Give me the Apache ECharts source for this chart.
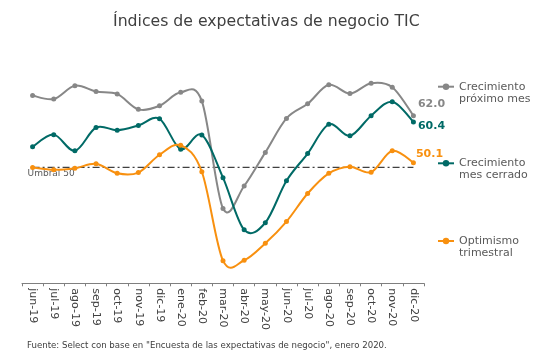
<!DOCTYPE html>
<html>
<head>
<meta charset="utf-8">
<script src="https://cdn.jsdelivr.net/npm/echarts@6/dist/echarts.min.js"></script>
<style>html,body{margin:0;padding:0;background:#fff}#c{width:560px;height:364px}</style>
</head>
<body>
<div id="c"></div>
<script>
const categories = ['jun-19','jul-19','ago-19','sep-19','oct-19','nov-19','dic-19','ene-20','feb-20','mar-20','abr-20','may-20','jun-20','jul-20','ago-20','sep-20','oct-20','nov-20','dic-20'];
const crecimientoProximo = [67.1,66.2,69.6,68.1,67.5,63.6,64.5,67.9,65.7,38.5,44.2,52.7,61.3,65.0,69.8,67.6,70.2,69.2,62.0];
const crecimientoCerrado = [54.1,57.2,53.1,59.0,58.3,59.5,61.2,53.5,57.1,46.3,33.1,34.9,45.5,52.4,59.8,56.9,62.0,65.5,60.4];
const optimismoTrimestral = [48.9,48.3,48.7,49.8,47.4,47.6,52.1,54.5,47.8,25.3,25.4,29.7,35.2,42.3,47.4,49.1,47.7,53.1,50.1];
const umbralValue = 48.9;
const umbral = categories.map(() => umbralValue);

const seriesNames = ['Crecimiento\npróximo mes', 'Crecimiento\nmes cerrado', 'Optimismo\ntrimestral'];
const colors = ['#878787', '#006a66', '#f8900f'];
const endOffsets = [[2, -11.4], [2, 3.7], [0, -9]];
const values = [crecimientoProximo, crecimientoCerrado, optimismoTrimestral];

const chart = echarts.init(document.getElementById('c'), null, {renderer: 'canvas'});
const FONT = 'DejaVu Sans';
const TENSION = 1 / 6;

// smooth curve (Catmull-Rom style, like spreadsheet smoothing) through the data, drawn segment by segment
function mkCurve(i) {
  const arr = values[i];
  const n = arr.length;
  return {
    type: 'custom',
    z: 2,
    silent: true,
    encode: {x: 0, y: 1},
    data: arr.map((v, k) => [k, v]),
    renderItem: (params, api) => {
      const k = params.dataIndex;
      if (k >= n - 1) return null;
      const P = (j) => { const c = Math.max(0, Math.min(n - 1, j)); return api.coord([c, arr[c]]); };
      const p0 = P(k - 1), p1 = P(k), p2 = P(k + 1), p3 = P(k + 2);
      return {
        type: 'bezierCurve',
        shape: {
          x1: p1[0], y1: p1[1], x2: p2[0], y2: p2[1],
          cpx1: p1[0] + (p2[0] - p0[0]) * TENSION, cpy1: p1[1] + (p2[1] - p0[1]) * TENSION,
          cpx2: p2[0] - (p3[0] - p1[0]) * TENSION, cpy2: p2[1] - (p3[1] - p1[1]) * TENSION
        },
        style: {stroke: colors[i], lineWidth: 2, fill: null, lineCap: 'round'}
      };
    }
  };
}

function mkSeries(i) {
  const arr = values[i];
  return {
    name: seriesNames[i],
    type: 'line',
    symbol: 'circle',
    symbolSize: 5,
    lineStyle: {width: 0, color: colors[i]},
    itemStyle: {color: colors[i]},
    z: 4,
    data: arr.map((v, k) => k === arr.length - 1 ? {
      value: v,
      label: {
        show: true, position: 'right', distance: 0, offset: endOffsets[i],
        formatter: (p) => p.value.toFixed(1),
        color: colors[i], fontFamily: FONT, fontSize: 11, fontWeight: 'bold'
      }
    } : v)
  };
}

const legendTops = [68.7, 145.3, 223];
const legends = seriesNames.map((n, i) => ({
  data: [n],
  orient: 'vertical',
  left: 437,
  top: legendTops[i],
  align: 'left',
  padding: 0,
  itemWidth: 16,
  itemHeight: 8,
  selectedMode: false,
  lineStyle: {width: 2, color: colors[i]},
  formatter: (name) => '\n' + name,
  textStyle: {fontFamily: FONT, fontSize: 11, color: '#595959', lineHeight: 12}
}));

chart.setOption({
  animation: false,
  backgroundColor: '#ffffff',
  title: {
    text: 'Índices de expectativas de negocio TIC',
    left: 108,
    top: 9,
    textStyle: {fontFamily: FONT, fontSize: 15.7, fontWeight: 'normal', color: '#404040'}
  },
  legend: legends,
  grid: {left: 22, right: 136, top: 64.3, bottom: 80.7, containLabel: false},
  xAxis: {
    type: 'category',
    data: categories,
    boundaryGap: true,
    axisLine: {lineStyle: {color: '#7f7f7f', width: 1}},
    axisTick: {show: true, length: 3, lineStyle: {color: '#7f7f7f'}},
    axisLabel: {rotate: -90, margin: 5, fontFamily: FONT, fontSize: 11, color: '#404040', interval: 0}
  },
  yAxis: {
    type: 'value', min: 19.57, max: 75,
    show: false, splitLine: {show: false}
  },
  graphic: [{
    type: 'text', left: 27, top: 341,
    style: {text: 'Fuente: Select con base en "Encuesta de las expectativas de negocio", enero 2020.',
      font: '8.6px "DejaVu Sans"', fill: '#404040'}
  }],
  series: [
    {
      name: 'Umbral 50',
      type: 'line',
      symbol: 'circle',
      symbolSize: 0,
      lineStyle: {width: 1.2, color: '#404040', type: [7, 3, 2, 3]},
      itemStyle: {color: '#404040'},
      z: 1,
      data: umbral.map((v, k) => k === 0 ? {
        value: v,
        label: {show: true, position: 'bottom', align: 'left', distance: 0, offset: [-5, 2],
          formatter: 'Umbral 50', fontFamily: FONT, fontSize: 9, color: '#595959'}
      } : v)
    },
    mkCurve(0), mkCurve(1), mkCurve(2),
    mkSeries(0), mkSeries(1), mkSeries(2)
  ]
});
</script>
</body>
</html>
